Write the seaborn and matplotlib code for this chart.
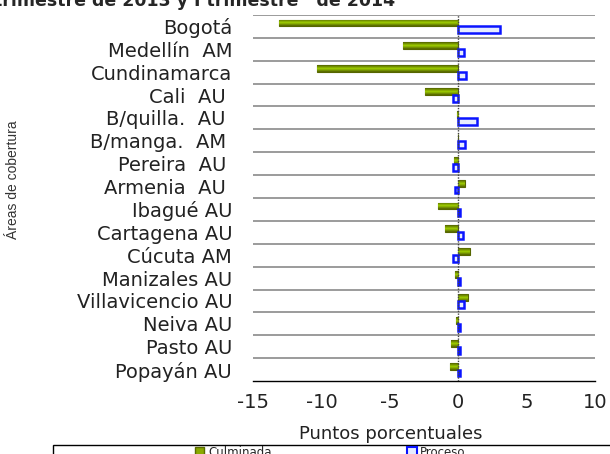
import numpy as np
import pandas as pd
import matplotlib.pyplot as plt
import matplotlib.patches as mpatches
import seaborn as sns

# datos
areas = ["Bogotá", "Medellín  AM", "Cundinamarca", "Cali  AU ", "B/quilla.  AU ",
         "B/manga.  AM ", "Pereira  AU ", "Armenia  AU ", "Ibagué AU", "Cartagena AU",
         "Cúcuta AM", "Manizales AU", "Villavicencio AU", "Neiva AU", "Pasto AU",
         "Popayán AU"]
culminada = [-13.1, -4.0, -10.3, -2.4, -0.1, 0.0, -0.3, 0.5, -1.5, -0.95,
             0.85, -0.25, 0.7, -0.15, -0.55, -0.6]
proceso = [3.05, 0.4, 0.6, -0.35, 1.4, 0.5, -0.35, -0.2, 0.15, 0.35,
           -0.35, 0.1, 0.4, 0.1, 0.15, 0.15]
series = ["Culminada", "Proceso"]
xticks = [-15, -10, -5, 0, 5, 10]

df = pd.DataFrame({
    "area": areas * 2,
    "valor": culminada + proceso,
    "serie": [series[0]] * len(areas) + [series[1]] * len(areas),
})

sns.set_style("white")
plt.rcParams["font.family"] = ["DejaVu Sans"]

fig = plt.figure(figsize=(6.1, 4.54), dpi=100)
ax = fig.add_axes([253 / 610, 1 - 381 / 454, 342 / 610, 366 / 454])

sns.barplot(data=df, y="area", x="valor", hue="serie", orient="h", width=0.6,
            palette=["#7f9a00", "#ffffff"], ax=ax, legend=False)

# estilo de las barras
olive = plt.matplotlib.colors.LinearSegmentedColormap.from_list(
    "olive", ["#526000", "#9fcf00", "#526000"])
grad = np.linspace(0, 1, 50).reshape(-1, 1)
for p in ax.containers[0]:
    p.set_edgecolor("#566600")
    p.set_linewidth(0.8)
    x0, y0 = p.get_x(), p.get_y()
    w, h = p.get_width(), p.get_height()
    if w == 0:
        continue
    im = ax.imshow(grad, cmap=olive, aspect="auto",
                   extent=[min(x0, x0 + w), max(x0, x0 + w), y0 + h, y0],
                   zorder=p.get_zorder() + 0.1)
    im.set_clip_path(p)
for p in ax.containers[1]:
    p.set_facecolor("#e6ecff")
    p.set_edgecolor("#0a14ff")
    p.set_linewidth(1.8)
    p.set_zorder(3)

ax.set_xlim(-15, 10)
ax.set_ylim(len(areas) - 0.5, -0.5)
ax.set_xticks(xticks)
ax.set_xticklabels([str(t) for t in xticks], fontsize=14)
ax.tick_params(axis="x", direction="out", length=5, width=1, color="black", pad=4,
               labelcolor="#222222")
ax.tick_params(axis="y", length=0, pad=15, labelsize=14, labelcolor="#222222")

for y in np.arange(-0.5, len(areas) - 1, 1.0):
    ax.axhline(y, color="#8a8a8a", lw=1.2, zorder=1)
ax.axvline(0, color="#444444", lw=1.0, ls=(0, (1, 1)), zorder=4)

for s in ["left", "right", "top"]:
    ax.spines[s].set_visible(False)
ax.spines["bottom"].set_color("black")
ax.spines["bottom"].set_linewidth(1)
ax.set_xlabel("")
ax.set_ylabel("")

# titulos y etiquetas
fig.text(395 / 610, 1 - 6 / 454, "trimestre de 2013 y I trimestre   de 2014",
         ha="right", va="baseline", fontsize=12.5, fontweight="bold")
fig.text(391 / 610, 1 - 434 / 454, "Puntos porcentuales", ha="center",
         va="center", fontsize=13, color="#222222")
fig.text(13 / 610, 1 - 180 / 454, "Áreas de cobertura", rotation=90, ha="center",
         va="center", fontsize=10, family=["Liberation Sans"], color="#333333")

# leyenda
fig.patches.append(mpatches.Rectangle((53 / 610, -0.1), 1, 1 - 445 / 454 + 0.1,
                                      transform=fig.transFigure, fill=False,
                                      edgecolor="black", lw=1))
handles = [mpatches.Patch(facecolor="#8aaa00", edgecolor="#5a6b00", label=series[0]),
           mpatches.Patch(facecolor="#e6ecff", edgecolor="#0a14ff", lw=1.5, label=series[1])]
fig.legend(handles=handles, ncol=2, loc="center left", frameon=False,
           bbox_to_anchor=(189 / 610, 1 - 452 / 454), fontsize=8.5,
           handlelength=0.8, handleheight=0.7, handletextpad=0.3,
           columnspacing=11.5, borderpad=0)

fig.savefig("out.png", dpi=100)
